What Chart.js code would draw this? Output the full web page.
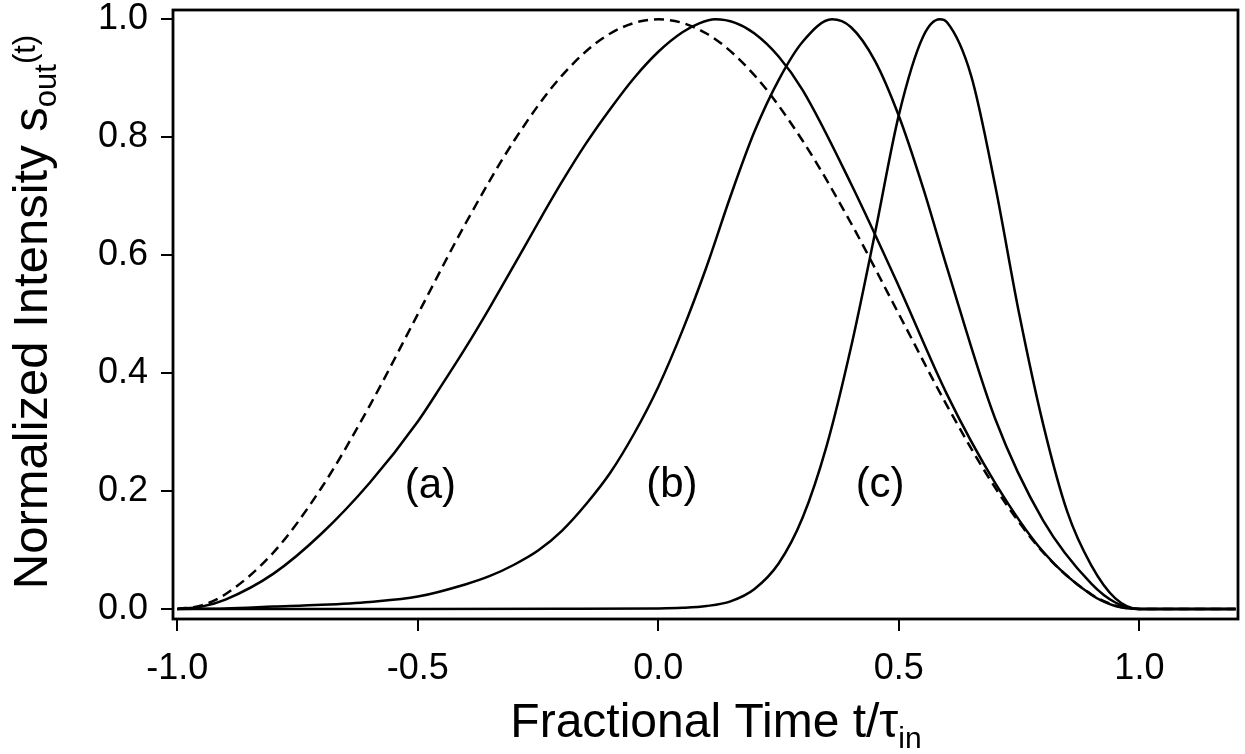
<!DOCTYPE html>
<html>
<head>
<meta charset="utf-8">
<script src="https://cdn.jsdelivr.net/npm/chart.js@4.4.0/dist/chart.umd.min.js"></script>
<style>
  html, body { margin: 0; padding: 0; background: #fff; }
  #wrap { width: 1245px; height: 754px; }
</style>
</head>
<body>
<div id="wrap"><canvas id="pulseChart" width="1245" height="754"></canvas></div>
<script>
// values (t / tau_in, normalized intensity)
const tInput = [-1.0, -0.95, -0.9, -0.8, -0.7, -0.6, -0.5, -0.4, -0.3, -0.2, -0.1, 0.0, 0.1, 0.2, 0.3, 0.4, 0.5, 0.6, 0.7, 0.8, 0.9, 0.95, 1.0, 1.2];
const sInput = [0, 0.006, 0.025, 0.096, 0.206, 0.345, 0.5, 0.655, 0.794, 0.905, 0.976, 1.0, 0.976, 0.905, 0.794, 0.655, 0.5, 0.345, 0.206, 0.096, 0.025, 0.006, 0, 0];

const tA = [-1.0, -0.95, -0.9, -0.8, -0.7, -0.6, -0.5, -0.45, -0.4, -0.35, -0.3, -0.25, -0.2, -0.15, -0.1, -0.05, 0.0, 0.05, 0.085, 0.118, 0.16, 0.2, 0.25, 0.3, 0.4, 0.5, 0.6, 0.7, 0.8, 0.9, 0.95, 1.0, 1.2];
const sA = [0, 0.004, 0.016, 0.060, 0.128, 0.214, 0.318, 0.380, 0.444, 0.512, 0.583, 0.655, 0.725, 0.790, 0.848, 0.901, 0.945, 0.978, 0.993, 1.0, 0.994, 0.976, 0.937, 0.880, 0.722, 0.547, 0.364, 0.214, 0.097, 0.024, 0.005, 0, 0];

const tB = [-1.0, -0.9, -0.8, -0.7, -0.6, -0.5, -0.4, -0.35, -0.3, -0.25, -0.2, -0.15, -0.1, -0.05, 0.0, 0.05, 0.1, 0.15, 0.2, 0.25, 0.3, 0.361, 0.4, 0.45, 0.5, 0.55, 0.6, 0.7, 0.8, 0.9, 0.95, 1.0, 1.2];
const sB = [0, 0.001, 0.004, 0.007, 0.012, 0.021, 0.042, 0.056, 0.075, 0.099, 0.133, 0.178, 0.231, 0.298, 0.377, 0.472, 0.58, 0.70, 0.81, 0.897, 0.962, 1.0, 0.987, 0.93, 0.836, 0.715, 0.579, 0.323, 0.150, 0.043, 0.011, 0, 0];

const tC = [-1.0, -0.5, -0.2, 0.0, 0.05, 0.1, 0.15, 0.2, 0.25, 0.3, 0.35, 0.4, 0.45, 0.5, 0.55, 0.585, 0.6, 0.65, 0.7, 0.75, 0.8, 0.85, 0.9, 0.95, 1.0, 1.2];
const sC = [0, 0, 0.0003, 0.001, 0.002, 0.005, 0.013, 0.034, 0.077, 0.155, 0.277, 0.442, 0.636, 0.838, 0.970, 1.0, 0.995, 0.905, 0.719, 0.501, 0.313, 0.165, 0.074, 0.018, 0, 0];

const xTicks = [-1.0, -0.5, 0.0, 0.5, 1.0];
const yTicks = [0.0, 0.2, 0.4, 0.6, 0.8, 1.0];

// curve labels: text, t, s
const curveLabels = [['(a)', -0.474, 0.207], ['(b)', 0.028, 0.21], ['(c)', 0.461, 0.21]];

const FONT = "'Liberation Sans', Arial, Helvetica, sans-serif";

function toXY(xs, ys) {
  return xs.map((x, i) => ({ x: x, y: ys[i] }));
}

// draw a row of text pieces (for sub/superscripts), centred on x
function drawRuns(ctx, runs, x, y) {
  let total = 0;
  runs.forEach(r => {
    ctx.font = r.size + 'px ' + FONT;
    r.w = ctx.measureText(r.text).width;
    total += r.w;
  });
  let cx = x - total / 2;
  runs.forEach(r => {
    ctx.font = r.size + 'px ' + FONT;
    ctx.fillText(r.text, cx, y + r.dy);
    cx += r.w;
  });
}

const decorPlugin = {
  id: 'decor',
  afterDatasetsDraw(chart) {
    const ctx = chart.ctx;
    const a = chart.chartArea;
    ctx.save();
    // frame
    ctx.strokeStyle = '#000';
    ctx.lineWidth = 2.8;
    ctx.strokeRect(a.left, a.top, a.right - a.left, a.bottom - a.top);

    ctx.fillStyle = '#000';
    ctx.textAlign = 'center';
    ctx.textBaseline = 'middle';
    ctx.font = '42px ' + FONT;
    curveLabels.forEach(l => {
      ctx.fillText(l[0], chart.scales.x.getPixelForValue(l[1]), chart.scales.y.getPixelForValue(l[2]));
    });

    ctx.textAlign = 'left';
    ctx.textBaseline = 'alphabetic';
    // x title
    drawRuns(ctx, [
      { text: 'Fractional Time t/\u03C4', size: 48, dy: 0 },
      { text: 'in', size: 30, dy: 11 }
    ], 716, 737);

    // y title
    ctx.translate(47, 312);
    ctx.rotate(-Math.PI / 2);
    drawRuns(ctx, [
      { text: 'Normalized Intensity s', size: 49, dy: 0 },
      { text: 'out', size: 31, dy: 9 },
      { text: '(t)', size: 31, dy: -12 }
    ], 0, 0);
    ctx.restore();
  }
};

const lineStyle = { borderColor: '#000', borderWidth: 2.5, pointRadius: 0, fill: false, cubicInterpolationMode: 'monotone' };

new Chart(document.getElementById('pulseChart'), {
  type: 'line',
  data: {
    datasets: [
      Object.assign({ label: 'input', data: toXY(tInput, sInput), borderDash: [10, 6] }, lineStyle),
      Object.assign({ label: 'a', data: toXY(tA, sA) }, lineStyle),
      Object.assign({ label: 'b', data: toXY(tB, sB) }, lineStyle),
      Object.assign({ label: 'c', data: toXY(tC, sC) }, lineStyle)
    ]
  },
  options: {
    responsive: false,
    animation: false,
    layout: { padding: { left: 0, right: 7, top: 10, bottom: 0 } },
    plugins: { legend: { display: false }, tooltip: { enabled: false } },
    scales: {
      x: {
        type: 'linear',
        min: -1.009,
        max: 1.205,
        afterFit(s) {
          s.height = 135;
          s.paddingLeft = 0; s.paddingRight = 0;
        },
        afterBuildTicks(s) { s.ticks = xTicks.map(v => ({ value: v })); },
        ticks: {
          callback: v => v.toFixed(1),
          color: '#000',
          font: { family: FONT, size: 36 },
          padding: 16,
          maxRotation: 0,
          autoSkip: false
        },
        grid: { drawOnChartArea: false, tickLength: 12, color: '#000', lineWidth: 2 },
        border: { display: false }
      },
      y: {
        min: -0.017,
        max: 1.0158,
        afterFit(s) {
          s.width = 173;
          s.paddingTop = 0; s.paddingBottom = 0;
        },
        afterBuildTicks(s) { s.ticks = yTicks.map(v => ({ value: v })); },
        ticks: {
          callback: v => v.toFixed(1),
          color: '#000',
          font: { family: FONT, size: 36 },
          padding: 13
        },
        grid: { drawOnChartArea: false, tickLength: 12, color: '#000', lineWidth: 2 },
        border: { display: false }
      }
    }
  },
  plugins: [decorPlugin]
});
</script>
</body>
</html>
